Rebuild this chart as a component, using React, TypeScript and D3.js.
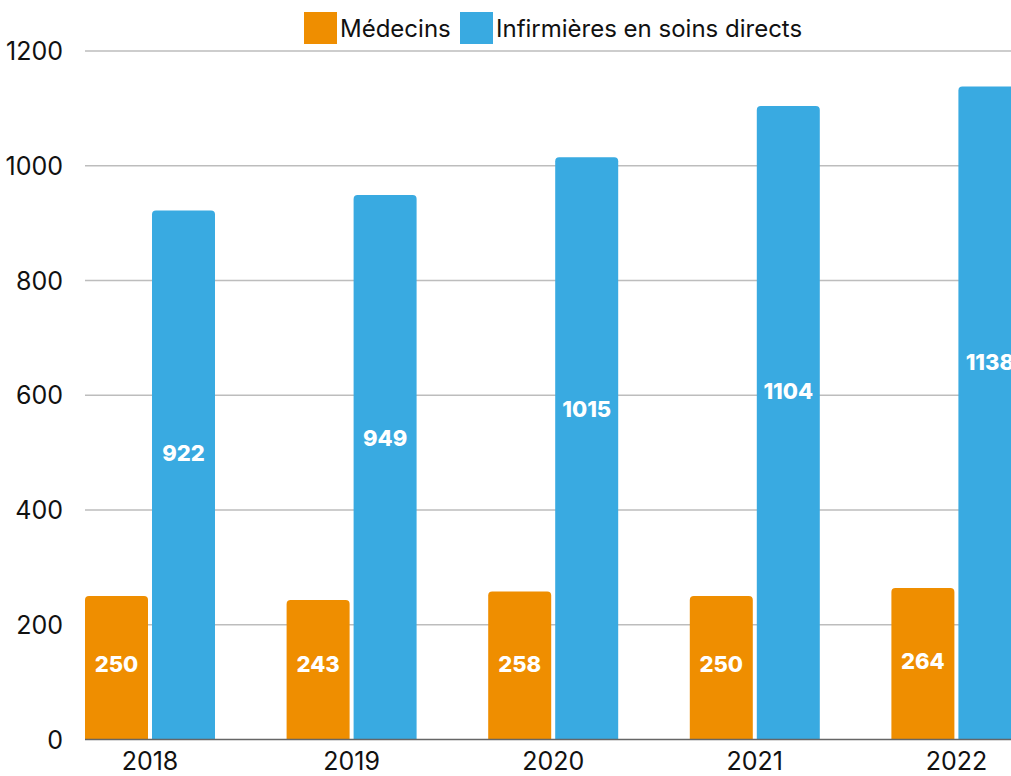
import React, { useEffect, useRef } from "react";
import * as d3 from "d3";

// data
const years = ["2018", "2019", "2020", "2021", "2022"];
const medecins = [250, 243, 258, 250, 264];
const infirmieres = [922, 949, 1015, 1104, 1138];
// where the value labels sit, in data units
const medecinsLabelAt = [132, 132, 132, 132, 137];
const infirmieresLabelAt = [499, 525, 576, 607, 658];
const yTicks = [0, 200, 400, 600, 800, 1000, 1200];
const seriesNames = ["Médecins", "Infirmières en soins directs"];
const colors = ["#EF8E00", "#39AAE1"];

const FONT = "Inter, 'Open Sans', sans-serif";

export default function App() {
  const ref = useRef<SVGSVGElement>(null);

  useEffect(() => {
    const svg = d3.select(ref.current);
    svg.selectAll("*").remove();

    const width = 1011;
    const left = 85, top = 51, bottom = 739.5;
    const step = 201.6, groupW = 130;

    const x = d3.scaleBand().domain(years).range([left, left + step * years.length]).padding(0);
    const inner = d3.scaleBand().domain(["m", "i"]).range([0, groupW]).paddingInner(4 / 67);
    const y = d3.scaleLinear().domain([0, 1200]).range([bottom, top]);

    // grid
    svg.append("g")
      .selectAll("line")
      .data(yTicks.filter(d => d > 0))
      .enter()
      .append("line")
      .attr("x1", left)
      .attr("x2", width)
      .attr("y1", d => y(d))
      .attr("y2", d => y(d))
      .attr("stroke", "#bdbdbd")
      .attr("stroke-width", 1.5);

    // y labels
    svg.append("g")
      .selectAll("text")
      .data(yTicks)
      .enter()
      .append("text")
      .attr("x", 63)
      .attr("y", d => y(d))
      .attr("dy", "0.36em")
      .attr("text-anchor", "end")
      .style("font-family", FONT)
      .style("font-size", "25px")
      .style("fill", "#111")
      .text(d => d);

    const roundTop = (x0: number, y0: number, w: number, h: number, r: number) =>
      `M${x0},${y0 + h}V${y0 + r}Q${x0},${y0} ${x0 + r},${y0}H${x0 + w - r}Q${x0 + w},${y0} ${x0 + w},${y0 + r}V${y0 + h}Z`;

    const groups = svg.append("g")
      .selectAll("g")
      .data(years)
      .enter()
      .append("g")
      .attr("transform", d => `translate(${x(d)},0)`);

    const series = [
      { key: "m", values: medecins, labelAt: medecinsLabelAt, color: colors[0] },
      { key: "i", values: infirmieres, labelAt: infirmieresLabelAt, color: colors[1] },
    ];

    series.forEach(s => {
      groups.append("path")
        .attr("d", (_d, i) => roundTop(inner(s.key)!, y(s.values[i]), inner.bandwidth(), bottom - y(s.values[i]), 4))
        .attr("fill", s.color);
      groups.append("text")
        .attr("x", inner(s.key)! + inner.bandwidth() / 2)
        .attr("y", (_d, i) => y(s.labelAt[i]))
        .attr("dy", "0.36em")
        .attr("text-anchor", "middle")
        .style("font-family", FONT)
        .style("font-weight", "800")
        .style("font-size", "22px")
        .style("fill", "#fff")
        .text((_d, i) => s.values[i]);
    });

    // zero line
    svg.append("line")
      .attr("x1", left)
      .attr("x2", width)
      .attr("y1", bottom)
      .attr("y2", bottom)
      .attr("stroke", "#666")
      .attr("stroke-width", 1.5);

    // x labels
    svg.append("g")
      .selectAll("text")
      .data(years)
      .enter()
      .append("text")
      .attr("x", d => x(d)! + groupW / 2)
      .attr("y", 770)
      .attr("text-anchor", "middle")
      .style("font-family", FONT)
      .style("font-size", "25px")
      .style("fill", "#111")
      .text(d => d);

    // legend
    const legendX = [304, 460];
    seriesNames.forEach((name, i) => {
      svg.append("rect")
        .attr("x", legendX[i])
        .attr("y", 12)
        .attr("width", 33)
        .attr("height", 32)
        .attr("fill", colors[i]);
      svg.append("text")
        .attr("x", legendX[i] + 36)
        .attr("y", 28)
        .attr("dy", "0.36em")
        .style("font-family", FONT)
        .style("font-size", "24px")
        .style("fill", "#111")
        .text(name);
    });
  }, []);

  return (
    <svg ref={ref} width={1011} height={776}
      style={{ position: "absolute", left: 0, top: 0, background: "#fff", overflow: "hidden" }} />
  );
}
